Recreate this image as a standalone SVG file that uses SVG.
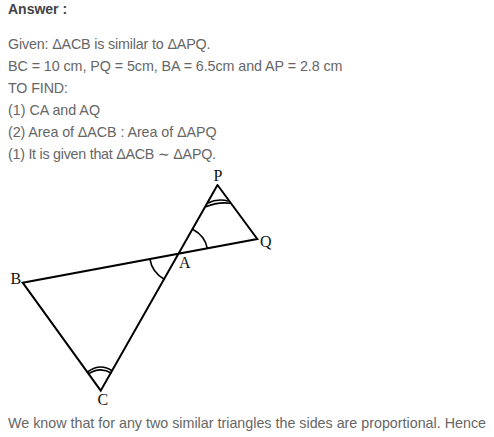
<svg xmlns="http://www.w3.org/2000/svg" width="494" height="437" viewBox="0 0 494 437">
<style>
text{font-family:"Liberation Sans",Arial,sans-serif}
.t{font-size:14.3px;fill:#666}
.h{font-size:14px;font-weight:bold;fill:#444}
.l{font-family:"Liberation Serif","Times New Roman",serif;font-size:16px;fill:#111}
.s{fill:none;stroke:#000;stroke-width:2;stroke-linecap:round}
.a{fill:none;stroke:#000;stroke-width:1.6}
</style>
<rect width="494" height="437" fill="#fff"/>
<g id="text">
<text class="h" x="8" y="14">Answer :</text>
<text class="t" x="8" y="49" textLength="202.5">Given: ΔACB is similar to ΔAPQ.</text>
<text class="t" x="8" y="71" textLength="334.5">BC = 10 cm, PQ = 5cm, BA = 6.5cm and AP = 2.8 cm</text>
<text class="t" x="8" y="93" textLength="60">TO FIND:</text>
<text class="t" x="8" y="115" textLength="92">(1) CA and AQ</text>
<text class="t" x="8" y="137" textLength="208.5">(2) Area of ΔACB : Area of ΔAPQ</text>
<text class="t" x="8" y="159" textLength="208">(1) It is given that ΔACB ∼ ΔAPQ.</text>
<text class="t" x="8" y="428" textLength="478">We know that for any two similar triangles the sides are proportional. Hence</text>
</g>
<g id="connectors">
<path class="s" d="M217.5 185L100.7 390.7L22.7 282.7L257.3 239L217.5 185"/>
<path class="a" d="M207.3 203.3Q218 198 228.7 201.3"/>
<path class="a" d="M206 206.7Q218 201.5 230.7 203.3"/>
<path class="a" d="M192.7 229.3Q205 236 207.3 248.3"/>
<path class="a" d="M150 259.3Q152 272 164.3 279.3"/>
<path class="a" d="M88.3 374Q100 366 111.7 373.3"/>
<path class="a" d="M87.5 372Q100 362.5 112.5 371"/>
</g>
<g id="node-P"><text class="l" x="213.5" y="181">P</text></g>
<g id="node-Q"><text class="l" x="260" y="247">Q</text></g>
<g id="node-A"><text class="l" x="179" y="268">A</text></g>
<g id="node-B"><text class="l" x="10.5" y="284">B</text></g>
<g id="node-C"><text class="l" x="97.5" y="405">C</text></g>
</svg>
